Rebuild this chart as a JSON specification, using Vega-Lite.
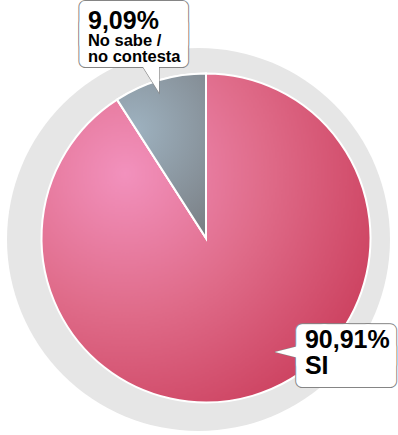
{
  "$schema": "https://vega.github.io/schema/vega-lite/v6.json",
  "width": 384,
  "height": 394,
  "padding": {"left": 14, "top": 41, "right": 0, "bottom": 0},
  "autosize": {"type": "none"},
  "background": "#ffffff",
  "config": {"view": {"stroke": null}},
  "data": {
    "values": [
      {"respuesta": "SI", "porcentaje": 90.91},
      {"respuesta": "No sabe / no contesta", "porcentaje": 9.09}
    ]
  },
  "layer": [
    {
      "mark": {"type": "arc", "radius": 191.5, "fill": "#e6e6e6", "xOffset": -7.5, "yOffset": 1.5},
      "encoding": {"theta": {"aggregate": "sum", "field": "porcentaje", "type": "quantitative"}}
    },
    {
      "mark": {
        "type": "arc", "radius": 164.5, "stroke": "#ffffff", "strokeWidth": 2,
        "fill": {"gradient": "radial", "x1": 0.255, "y1": 0.304, "r1": 0, "x2": 0.255, "y2": 0.304, "r2": 0.85,
          "stops": [{"offset": 0, "color": "#f291bd"}, {"offset": 0.5, "color": "#df6b89"}, {"offset": 1, "color": "#cb3f5d"}]}
      },
      "encoding": {"theta": {"field": "porcentaje", "type": "quantitative", "stack": true}}
    },
    {
      "mark": {
        "type": "arc", "radius": 164.5, "stroke": "#ffffff", "strokeWidth": 2,
        "fill": {"gradient": "radial", "x1": 0.33, "y1": 0.345, "r1": 0, "x2": 0.33, "y2": 0.345, "r2": 0.8,
          "stops": [{"offset": 0, "color": "#9eb2c0"}, {"offset": 1, "color": "#787c81"}]}
      },
      "encoding": {
        "theta": {"field": "porcentaje", "type": "quantitative", "stack": true},
        "opacity": {"condition": {"test": "datum.respuesta !== 'SI'", "value": 1}, "value": 0}
      }
    },
    {
      "mark": {"type": "text", "font": "DejaVu Sans", "fontSize": 28.4, "lineHeight": 16.4, "align": "center", "baseline": "middle", "dy": -5.5, "opacity": 0.999,
        "fill": "#858585", "stroke": "#858585", "strokeWidth": 14, "strokeJoin": "round", "radius": 181.8, "thetaOffset": -0.594},
      "encoding": {
        "theta": {"field": "porcentaje", "type": "quantitative", "stack": true},
        "text": {"condition": {"test": "datum.respuesta === 'SI'", "value": ["████", "████"]}, "value": ""}
      }
    },
    {
      "mark": {"type": "arc", "theta": 1.326, "theta2": 1.815, "radius": 28, "radius2": 0, "xOffset": 69, "yOffset": 114,
        "fill": "#ffffff", "stroke": "#858585", "strokeWidth": 1.2},
      "encoding": {"opacity": {"condition": {"test": "datum.respuesta === 'SI'", "value": 1}, "value": 0}}
    },
    {
      "mark": {"type": "text", "font": "DejaVu Sans", "fontSize": 28.4, "lineHeight": 16.4, "align": "center", "baseline": "middle", "dy": -5.5, "opacity": 0.999,
        "fill": "#ffffff", "stroke": "#ffffff", "strokeWidth": 12, "strokeJoin": "round", "radius": 181.8, "thetaOffset": -0.594},
      "encoding": {
        "theta": {"field": "porcentaje", "type": "quantitative", "stack": true},
        "text": {"condition": {"test": "datum.respuesta === 'SI'", "value": ["████", "████"]}, "value": ""}
      }
    },
    {
      "mark": {"type": "arc", "theta": 1.326, "theta2": 1.815, "radius": 27.4, "radius2": 0, "xOffset": 69, "yOffset": 114,
        "fill": "#ffffff"},
      "encoding": {"opacity": {"condition": {"test": "datum.respuesta === 'SI'", "value": 1}, "value": 0}}
    },
    {
      "mark": {"type": "text", "font": "Liberation Sans", "fontWeight": "bold", "fontSize": 25, "lineHeight": 26,
        "align": "left", "baseline": "alphabetic", "fill": "#000000", "radius": 147.6, "thetaOffset": -0.449},
      "encoding": {
        "theta": {"field": "porcentaje", "type": "quantitative", "stack": true},
        "text": {"condition": {"test": "datum.respuesta === 'SI'", "value": ["90,91%", "SI"]}, "value": ""}
      }
    },
    {
      "mark": {"type": "text", "font": "DejaVu Sans", "fontSize": 31.2, "lineHeight": 17.1, "align": "center", "baseline": "middle", "dy": -8, "opacity": 0.999,
        "fill": "#858585", "stroke": "#858585", "strokeWidth": 14, "strokeJoin": "round", "radius": 215.6, "thetaOffset": -0.0574},
      "encoding": {
        "theta": {"field": "porcentaje", "type": "quantitative", "stack": true},
        "text": {"condition": {"test": "datum.respuesta !== 'SI'", "value": ["████", "████"]}, "value": ""}
      }
    },
    {
      "mark": {"type": "arc", "theta": -0.559, "theta2": 0, "radius": 31, "radius2": 0, "xOffset": -47, "yOffset": -145.5,
        "fill": "#ffffff", "stroke": "#858585", "strokeWidth": 1.2},
      "encoding": {"opacity": {"condition": {"test": "datum.respuesta !== 'SI'", "value": 1}, "value": 0}}
    },
    {
      "mark": {"type": "text", "font": "DejaVu Sans", "fontSize": 31.2, "lineHeight": 17.1, "align": "center", "baseline": "middle", "dy": -8, "opacity": 0.999,
        "fill": "#ffffff", "stroke": "#ffffff", "strokeWidth": 12, "strokeJoin": "round", "radius": 215.6, "thetaOffset": -0.0574},
      "encoding": {
        "theta": {"field": "porcentaje", "type": "quantitative", "stack": true},
        "text": {"condition": {"test": "datum.respuesta !== 'SI'", "value": ["████", "████"]}, "value": ""}
      }
    },
    {
      "mark": {"type": "arc", "theta": -0.559, "theta2": 0, "radius": 30.4, "radius2": 0, "xOffset": -47, "yOffset": -145.5,
        "fill": "#ffffff"},
      "encoding": {"opacity": {"condition": {"test": "datum.respuesta !== 'SI'", "value": 1}, "value": 0}}
    },
    {
      "mark": {"type": "text", "font": "Liberation Sans", "fontWeight": "bold", "fontSize": 25,
        "align": "left", "baseline": "alphabetic", "fill": "#000000", "radius": 240.4, "thetaOffset": -0.2276},
      "encoding": {
        "theta": {"field": "porcentaje", "type": "quantitative", "stack": true},
        "text": {"condition": {"test": "datum.respuesta !== 'SI'", "value": "9,09%"}, "value": ""}
      }
    },
    {
      "mark": {"type": "text", "font": "Liberation Sans", "fontWeight": "bold", "fontSize": 16.5, "lineHeight": 16,
        "align": "left", "baseline": "alphabetic", "fill": "#000000", "radius": 225.4, "thetaOffset": -0.266},
      "encoding": {
        "theta": {"field": "porcentaje", "type": "quantitative", "stack": true},
        "text": {"condition": {"test": "datum.respuesta !== 'SI'", "value": ["No sabe /", "no contesta"]}, "value": ""}
      }
    }
  ]
}
